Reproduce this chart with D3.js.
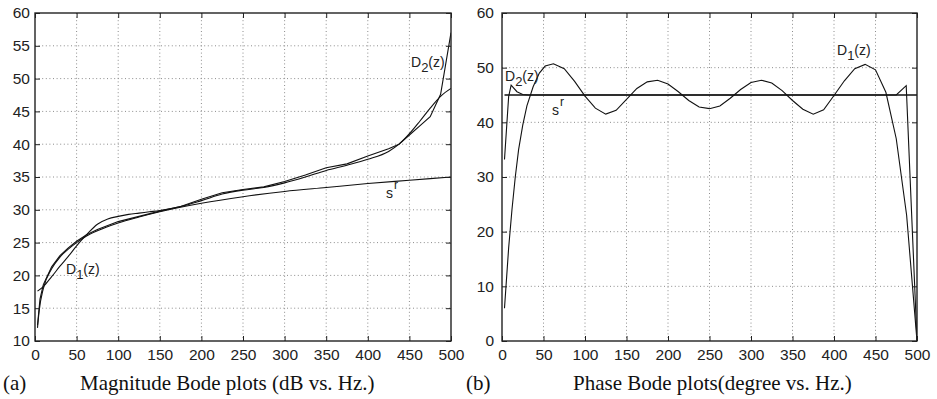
<!DOCTYPE html>
<html>
<head>
<meta charset="utf-8">
<script src="https://cdn.jsdelivr.net/npm/d3@7"></script>
<style>
  body { margin: 0; background: #fff; }
  svg { display: block; }
</style>
</head>
<body>
<div class="box"></div>
<script>
// ---- data ----
const freqTicks = [0, 50, 100, 150, 200, 250, 300, 350, 400, 450, 500];
const magTicks = [10, 15, 20, 25, 30, 35, 40, 45, 50, 55, 60];
const phaseTicks = [0, 10, 20, 30, 40, 50, 60];

// magnitude (dB) : [Hz, dB]
const magSr = [[3, 12.0], [5, 14.6], [10, 18.0], [20, 21.0], [30, 22.8], [40, 24.0], [50, 25.0],
  [62, 26.0], [75, 26.8], [100, 28.0], [125, 28.9], [150, 29.7], [200, 31.0], [250, 32.0],
  [300, 32.8], [350, 33.4], [400, 34.0], [450, 34.5], [500, 35.0]];
const magD1 = [[3, 17.6], [10, 18.3], [20, 19.8], [30, 21.4], [40, 22.9], [50, 24.5], [62, 26.2],
  [75, 27.8], [87.5, 28.6], [100, 29.0], [112.5, 29.3], [125, 29.5], [137.5, 29.7], [150, 29.9],
  [175, 30.5], [200, 31.4], [225, 32.4], [250, 33.0], [275, 33.4], [300, 34.1], [325, 35.0],
  [350, 36.0], [375, 36.8], [400, 37.7], [425, 38.9], [437.5, 40.0], [450, 41.6], [462.5, 43.5],
  [475, 45.5], [487.5, 47.3], [500, 48.5]];
const magD2 = [[3, 12.4], [6, 16.4], [10, 18.6], [20, 21.3], [30, 23.0], [40, 24.2], [50, 25.2],
  [62, 26.2], [75, 27.0], [100, 28.2], [125, 29.0], [150, 29.8], [175, 30.5], [200, 31.6],
  [225, 32.6], [250, 33.1], [275, 33.5], [300, 34.3], [325, 35.3], [350, 36.4], [375, 37.0],
  [400, 38.2], [425, 39.3], [437.5, 40.0], [450, 41.4], [462.5, 42.8], [475, 44.2],
  [487.5, 47.6], [500, 57.0]];

// phase (degree) : [Hz, deg]
const phaseSr = [[3, 45], [500, 45]];
const phaseD1 = [[3, 6], [8, 17], [12, 24], [16, 30], [20, 35], [25, 39.5], [30, 43], [37.5, 46.5],
  [45, 49], [52, 50.3], [62, 50.7], [75, 49.8], [87.5, 47.5], [100, 44.8], [112.5, 42.6],
  [125, 41.5], [137.5, 42.2], [150, 44.2], [162.5, 46.2], [175, 47.4], [187.5, 47.7], [200, 47.0],
  [212.5, 45.6], [225, 44.0], [237.5, 42.8], [250, 42.5], [262.5, 43.0], [275, 44.4],
  [287.5, 46.0], [300, 47.3], [312.5, 47.7], [325, 47.2], [337.5, 45.8], [350, 44.0],
  [362.5, 42.4], [375, 41.5], [387.5, 42.3], [400, 44.9], [412.5, 47.6], [425, 49.8],
  [437.5, 50.6], [450, 49.6], [462.5, 45.5], [475, 37.0], [487.5, 23.0], [500, 0]];
const phaseD2 = [[3, 33.2], [8, 44.7], [11, 46.8], [18, 45.6], [25, 45.1], [32, 45.0],
  [475, 45.0], [487, 46.7], [500, 0]];

const width = 937, height = 399;

const svg = d3.select(".box").append("svg")
  .attr("width", width)
  .attr("height", height)
  .attr("font-family", "'Liberation Sans', Arial, Helvetica, sans-serif");

function drawPanel(opt) {
  const x = d3.scaleLinear().domain([0, 500]).range([opt.left, opt.right]);
  const y = d3.scaleLinear().domain([opt.yTicks[0], opt.yTicks[opt.yTicks.length - 1]])
    .range([opt.bottom, opt.top]);

  const g = svg.append("g");

  // dotted grid
  const grid = g.append("g")
    .attr("stroke", "#8c8c8c")
    .attr("stroke-width", 1)
    .attr("stroke-dasharray", "1,2.6");
  grid.selectAll(".vx").data(freqTicks.slice(1, -1)).join("line")
    .attr("x1", d => x(d)).attr("x2", d => x(d))
    .attr("y1", opt.top).attr("y2", opt.bottom);
  grid.selectAll(".hy").data(opt.yTicks.slice(1, -1)).join("line")
    .attr("x1", opt.left).attr("x2", opt.right)
    .attr("y1", d => y(d)).attr("y2", d => y(d));

  // curves
  g.append("clipPath").attr("id", opt.id + "clip")
    .append("rect")
    .attr("x", opt.left).attr("y", opt.top)
    .attr("width", opt.right - opt.left).attr("height", opt.bottom - opt.top);

  const line = d3.line().x(d => x(d[0])).y(d => y(d[1]));
  g.append("g")
    .attr("clip-path", `url(#${opt.id}clip)`)
    .attr("fill", "none")
    .attr("stroke", "#111")
    .selectAll("path")
    .data(opt.series)
    .join("path")
    .attr("stroke-width", d => d.w)
    .attr("d", d => line.curve(d.curve)(d.values));

  // axes, ticks pointing inwards
  g.append("g")
    .attr("transform", `translate(0,${opt.bottom})`)
    .call(d3.axisBottom(x).tickValues(freqTicks).tickSize(-5).tickPadding(8));
  g.append("g")
    .attr("transform", `translate(${opt.left},0)`)
    .call(d3.axisLeft(y).tickValues(opt.yTicks).tickSize(-5).tickPadding(opt.yPad));
  g.append("g")
    .attr("transform", `translate(0,${opt.top})`)
    .call(d3.axisTop(x).tickValues(freqTicks).tickSize(-5).tickFormat(""));
  g.append("g")
    .attr("transform", `translate(${opt.right},0)`)
    .call(d3.axisRight(y).tickValues(opt.yTicks).tickSize(-5).tickFormat(""));

  g.selectAll(".domain").remove();
  g.selectAll(".tick line").attr("stroke", "#222").attr("stroke-width", 1);
  g.selectAll(".tick text")
    .attr("font-family", "'Liberation Sans', Arial, Helvetica, sans-serif")
    .attr("font-size", 15.5)
    .attr("fill", "#222");

  // frame
  g.append("rect")
    .attr("x", opt.left).attr("y", opt.top)
    .attr("width", opt.right - opt.left).attr("height", opt.bottom - opt.top)
    .attr("fill", "none")
    .attr("stroke", "#222")
    .attr("stroke-width", 1.4);

  // curve labels
  opt.labels.forEach(function (l) {
    const t = g.append("text")
      .attr("x", l.x).attr("y", l.y)
      .attr("font-size", 14)
      .attr("fill", "#222");
    t.append("tspan").text(l.main);
    if (l.sub) {
      t.append("tspan").attr("dy", 5).attr("font-size", 13).text(l.sub);
      t.append("tspan").attr("dy", -5).text(l.rest);
    }
    if (l.sup) {
      t.append("tspan").attr("dy", -9).attr("dx", 1).attr("font-size", 12).text(l.sup);
    }
  });

  // caption
  const cap = g.append("g")
    .attr("font-family", "'Liberation Serif', 'Times New Roman', Times, serif")
    .attr("font-size", 21)
    .attr("fill", "#111");
  cap.append("text").attr("x", opt.tagX).attr("y", 390).text(opt.tag);
  cap.append("text").attr("x", opt.capX).attr("y", 390).text(opt.caption);
}

drawPanel({
  id: "mag",
  left: 35, right: 451, top: 13, bottom: 341,
  yTicks: magTicks,
  yPad: 5,
  series: [
    { values: magSr, curve: d3.curveMonotoneX, w: 1.1 },
    { values: magD1, curve: d3.curveMonotoneX, w: 1.1 },
    { values: magD2, curve: d3.curveLinear, w: 1.1 }
  ],
  labels: [
    { x: 66, y: 274, main: "D", sub: "1", rest: "(z)" },
    { x: 411, y: 67, main: "D", sub: "2", rest: "(z)" },
    { x: 386, y: 198, main: "s", sup: "r" }
  ],
  tag: "(a)", tagX: 3,
  caption: "Magnitude Bode plots (dB vs. Hz.)", capX: 80
});

drawPanel({
  id: "pha",
  left: 502, right: 917, top: 13, bottom: 341,
  yTicks: phaseTicks,
  yPad: 8,
  series: [
    { values: phaseSr, curve: d3.curveLinear, w: 1.6 },
    { values: phaseD1, curve: d3.curveLinear, w: 1.1 },
    { values: phaseD2, curve: d3.curveLinear, w: 1.1 }
  ],
  labels: [
    { x: 505, y: 81, main: "D", sub: "2", rest: "(z)" },
    { x: 552, y: 115, main: "s", sup: "r" },
    { x: 837, y: 55, main: "D", sub: "1", rest: "(z)" }
  ],
  tag: "(b)", tagX: 466,
  caption: "Phase Bode plots(degree vs. Hz.)", capX: 573
});
</script>
</body>
</html>
